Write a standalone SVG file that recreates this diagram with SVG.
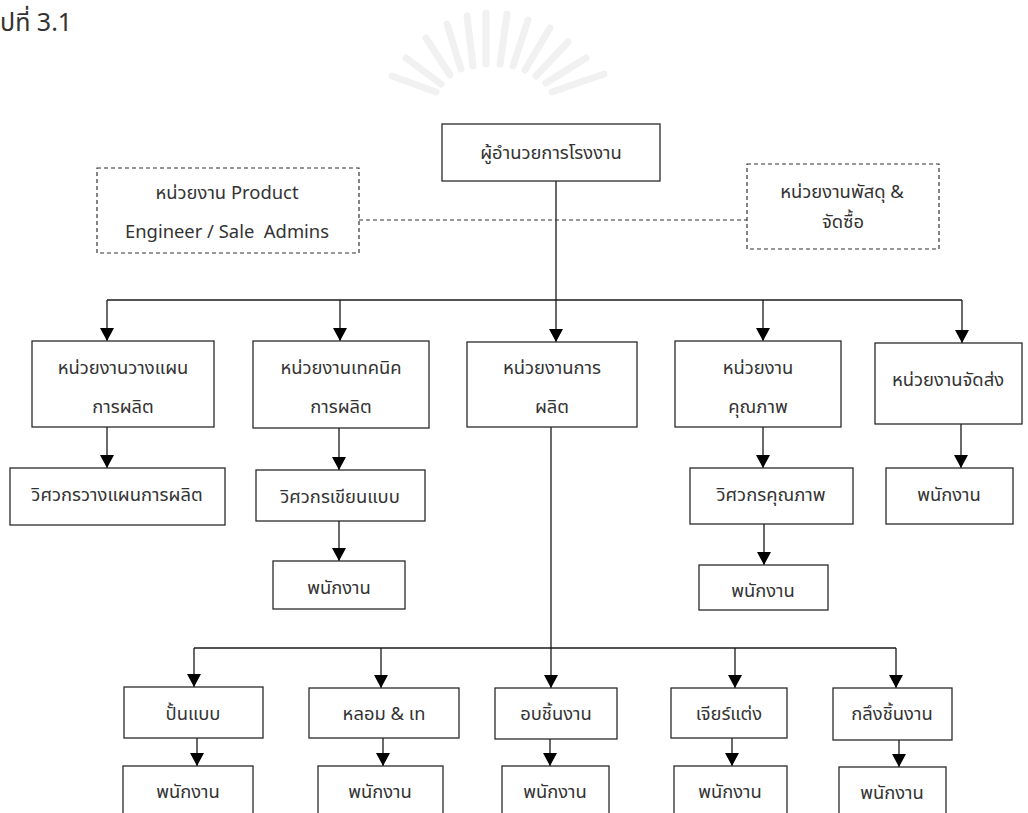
<svg xmlns="http://www.w3.org/2000/svg" width="1028" height="813" viewBox="0 0 1028 813">
<style>
  .box{fill:#fff;stroke:#2a2a2a;stroke-width:1.3}
  .dbox{fill:#fff;stroke:#333;stroke-width:1.2;stroke-dasharray:4 3}
  .t{font-family:"Noto Sans Thai","Noto Sans","DejaVu Sans",sans-serif;font-size:18.4px;fill:#333;text-anchor:middle;dominant-baseline:central}
  .ln{fill:none;stroke:#1a1a1a;stroke-width:1.3}
  .ar{fill:none;stroke:#1a1a1a;stroke-width:1.3;marker-end:url(#ah)}
  .dl{fill:none;stroke:#333;stroke-width:1.2;stroke-dasharray:4 3}
  .wm{stroke:#f1f1f1;stroke-width:7;stroke-linecap:round}
</style>
<defs>
  <marker id="ah" markerUnits="userSpaceOnUse" markerWidth="13" markerHeight="14" refX="13" refY="7" orient="auto" viewBox="0 0 13 14">
    <path d="M0,0 L13,7 L0,14 z" fill="#000"/>
  </marker>
</defs>
<rect width="1028" height="813" fill="#fff"/>
<text x="0" y="31" style="font-family:'Noto Sans Thai','Noto Sans',sans-serif;font-size:25px;fill:#333">ปที่ 3.1</text>
<g id="watermark">
  <line class="wm" x1="436" y1="92" x2="392" y2="76"/>
  <line class="wm" x1="441" y1="84" x2="406" y2="58"/>
  <line class="wm" x1="450" y1="75" x2="426" y2="38"/>
  <line class="wm" x1="461" y1="69" x2="447" y2="24"/>
  <line class="wm" x1="473" y1="66" x2="467" y2="16"/>
  <line class="wm" x1="486" y1="64" x2="486" y2="13"/>
  <line class="wm" x1="500" y1="64" x2="507" y2="14"/>
  <line class="wm" x1="513" y1="66" x2="528" y2="20"/>
  <line class="wm" x1="525" y1="70" x2="550" y2="28"/>
  <line class="wm" x1="536" y1="76" x2="568" y2="42"/>
  <line class="wm" x1="546" y1="83" x2="586" y2="58"/>
  <line class="wm" x1="552" y1="92" x2="604" y2="74"/>
</g>
<g id="connectors">
  <line class="ln" x1="556" y1="181" x2="556" y2="300"/>
  <line class="dl" x1="359" y1="220" x2="747" y2="220"/>
  <line class="ln" x1="107" y1="300" x2="962" y2="300"/>
  <line class="ar" x1="107" y1="300" x2="107" y2="341"/>
  <line class="ar" x1="340" y1="300" x2="340" y2="341"/>
  <line class="ar" x1="556" y1="300" x2="556" y2="342"/>
  <line class="ar" x1="763" y1="300" x2="763" y2="341"/>
  <line class="ar" x1="962" y1="300" x2="962" y2="343"/>
  <line class="ar" x1="107" y1="427" x2="107" y2="468"/>
  <line class="ar" x1="339" y1="428" x2="339" y2="470"/>
  <line class="ar" x1="339" y1="521" x2="339" y2="561"/>
  <line class="ar" x1="763" y1="427" x2="763" y2="468"/>
  <line class="ar" x1="764" y1="524" x2="764" y2="565"/>
  <line class="ar" x1="961" y1="424" x2="961" y2="468"/>
  <line class="ln" x1="551" y1="427" x2="551" y2="648"/>
  <line class="ln" x1="194" y1="648" x2="896" y2="648"/>
  <line class="ar" x1="194" y1="648" x2="194" y2="687"/>
  <line class="ar" x1="381" y1="648" x2="381" y2="688"/>
  <line class="ar" x1="551" y1="648" x2="551" y2="688"/>
  <line class="ar" x1="735" y1="648" x2="735" y2="688"/>
  <line class="ar" x1="896" y1="648" x2="896" y2="688"/>
  <line class="ar" x1="197" y1="738" x2="197" y2="766"/>
  <line class="ar" x1="383" y1="738" x2="383" y2="766"/>
  <line class="ar" x1="550" y1="739" x2="550" y2="766"/>
  <line class="ar" x1="732" y1="738" x2="732" y2="766"/>
  <line class="ar" x1="899" y1="740" x2="899" y2="767"/>
</g>
<g id="director"><rect class="box" x="442" y="124" width="218" height="57"/><text class="t" x="551" y="153">ผู้อำนวยการโรงงาน</text></g>
<g id="product-eng"><rect class="dbox" x="97" y="168" width="262" height="85"/><text class="t" x="227" y="193">หน่วยงาน Product</text><text class="t" x="227" y="232" xml:space="preserve">Engineer / Sale  Admins</text></g>
<g id="purchasing"><rect class="dbox" x="747" y="164" width="192" height="85"/><text class="t" x="842" y="192">หน่วยงานพัสดุ &amp;</text><text class="t" x="843" y="222">จัดซื้อ</text></g>
<g id="planning"><rect class="box" x="32" y="341" width="182" height="86"/><text class="t" x="123" y="368">หน่วยงานวางแผน</text><text class="t" x="123" y="407">การผลิต</text></g>
<g id="technical"><rect class="box" x="253" y="341" width="176" height="87"/><text class="t" x="341" y="368">หน่วยงานเทคนิค</text><text class="t" x="341" y="407">การผลิต</text></g>
<g id="production"><rect class="box" x="467" y="342" width="170" height="85"/><text class="t" x="552" y="368">หน่วยงานการ</text><text class="t" x="552" y="407">ผลิต</text></g>
<g id="quality"><rect class="box" x="675" y="341" width="166" height="86"/><text class="t" x="758" y="368">หน่วยงาน</text><text class="t" x="758" y="407">คุณภาพ</text></g>
<g id="shipping"><rect class="box" x="875" y="343" width="147" height="81"/><text class="t" x="948" y="380">หน่วยงานจัดส่ง</text></g>
<g id="plan-eng"><rect class="box" x="10" y="468" width="215" height="57"/><text class="t" x="117" y="495">วิศวกรวางแผนการผลิต</text></g>
<g id="design-eng"><rect class="box" x="256" y="470" width="169" height="51"/><text class="t" x="340" y="497">วิศวกรเขียนแบบ</text></g>
<g id="tech-staff"><rect class="box" x="273" y="561" width="132" height="48"/><text class="t" x="339" y="588">พนักงาน</text></g>
<g id="quality-eng"><rect class="box" x="690" y="468" width="163" height="56"/><text class="t" x="771" y="495">วิศวกรคุณภาพ</text></g>
<g id="quality-staff"><rect class="box" x="699" y="565" width="129" height="45"/><text class="t" x="763" y="591">พนักงาน</text></g>
<g id="ship-staff"><rect class="box" x="886" y="468" width="127" height="56"/><text class="t" x="949" y="495">พนักงาน</text></g>
<g id="mold"><rect class="box" x="124" y="687" width="139" height="51"/><text class="t" x="193" y="714">ปั้นแบบ</text></g>
<g id="cast"><rect class="box" x="309" y="688" width="150" height="50"/><text class="t" x="384" y="714">หลอม &amp; เท</text></g>
<g id="bake"><rect class="box" x="495" y="688" width="122" height="51"/><text class="t" x="556" y="714">อบชิ้นงาน</text></g>
<g id="grind"><rect class="box" x="671" y="688" width="116" height="50"/><text class="t" x="729" y="714">เจียร์แต่ง</text></g>
<g id="lathe"><rect class="box" x="833" y="688" width="119" height="52"/><text class="t" x="892" y="714">กลึงชิ้นงาน</text></g>
<g id="mold-staff"><rect class="box" x="123" y="766" width="130" height="60"/><text class="t" x="188" y="792">พนักงาน</text></g>
<g id="cast-staff"><rect class="box" x="318" y="766" width="125" height="60"/><text class="t" x="380" y="792">พนักงาน</text></g>
<g id="bake-staff"><rect class="box" x="502" y="766" width="107" height="60"/><text class="t" x="555" y="792">พนักงาน</text></g>
<g id="grind-staff"><rect class="box" x="674" y="766" width="113" height="60"/><text class="t" x="730" y="792">พนักงาน</text></g>
<g id="lathe-staff"><rect class="box" x="839" y="767" width="107" height="60"/><text class="t" x="892" y="793">พนักงาน</text></g>
</svg>
